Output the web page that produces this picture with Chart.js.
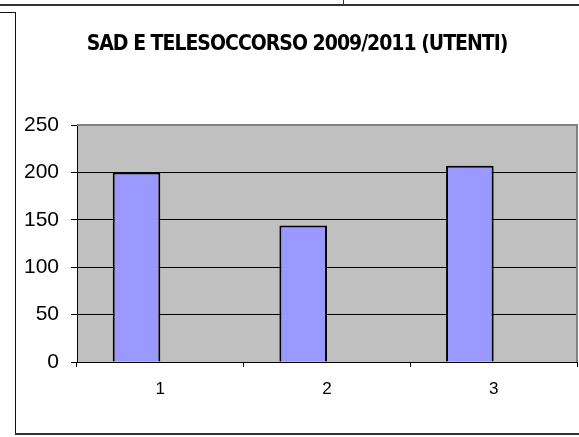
<!DOCTYPE html>
<html>
<head>
<meta charset="utf-8">
<script src="https://cdn.jsdelivr.net/npm/chart.js@4/dist/chart.umd.min.js"></script>
<style>
  body { margin: 0; background: #fff; }
  #wrap { position: relative; width: 579px; height: 437px; overflow: hidden; }
  #chart { position: absolute; left: 15px; top: 0; }
  .ln { position: absolute; background: #333; }
</style>
</head>
<body>
<div id="wrap">
  <canvas id="chart" width="564" height="437"></canvas>
  <div class="ln" style="left:0;top:4px;width:579px;height:2px;"></div>
  <div class="ln" style="left:343px;top:0;width:1px;height:5px;"></div>
  <div class="ln" style="left:0;top:12px;width:16px;height:1px;background:#111;"></div>
  <div class="ln" style="left:15px;top:12px;width:1px;height:423px;background:#111;"></div>
  <div class="ln" style="left:15px;top:433px;width:564px;height:2px;"></div>
</div>
<script>
var title = 'SAD E TELESOCCORSO 2009/2011 (UTENTI)';
var categories = ['1', '2', '3'];
var utenti = [200, 144, 207];
var emptySeries = [null, null, null]; // excel left room for a 2nd series
var yMax = 250, yStep = 50;

var plotBg = {
  id: 'plotBg',
  beforeDraw: function(chart){
    var a = chart.chartArea, c = chart.ctx;
    c.save();
    c.fillStyle = '#c0c0c0';
    c.fillRect(a.left, a.top, a.right - a.left, a.bottom - a.top);
    c.restore();
  },
  afterDatasetsDraw: function(chart){
    var a = chart.chartArea, c = chart.ctx;
    c.save();
    c.strokeStyle = '#808080';
    c.lineWidth = 2;
    c.beginPath();
    c.moveTo(a.left, a.top);
    c.lineTo(a.right, a.top);
    c.lineTo(a.right, a.bottom);
    c.stroke();
    c.restore();
  },
  // title drawn by hand so it can be squeezed like the Calibri original
  afterDraw: function(chart){
    var c = chart.ctx;
    c.save();
    c.font = "bold 21px 'DejaVu Sans Condensed', sans-serif";
    c.letterSpacing = '-1px';
    c.fillStyle = '#000';
    c.textAlign = 'center';
    c.textBaseline = 'alphabetic';
    c.fillText(title, chart.width / 2, 49.5);
    c.restore();
  }
};

new Chart(document.getElementById('chart'), {
  type: 'bar',
  data: {
    labels: categories,
    datasets: [
      { data: utenti, backgroundColor: '#9999ff', borderColor: '#000', borderWidth: 2 },
      { data: emptySeries, backgroundColor: '#993366' }
    ]
  },
  options: {
    responsive: false,
    animation: false,
    layout: { padding: { left: 0, right: 2, top: 125, bottom: 0 } },
    datasets: { bar: { categoryPercentage: 2 / 3.5, barPercentage: 1 } },
    plugins: {
      legend: { display: false },
      tooltip: { enabled: false },
      title: { display: false }
    },
    scales: {
      x: {
        grid: { drawOnChartArea: false, color: '#000', tickLength: 5 },
        border: { color: '#000', width: 1 },
        ticks: { color: '#000', padding: 12, font: { family: "'Liberation Sans', Arial, sans-serif", size: 17 } },
        afterFit: function(s){ s.height = 75; }
      },
      y: {
        min: 0, max: yMax,
        grid: { color: '#000', tickLength: 6 },
        border: { color: '#000', width: 1 },
        ticks: { stepSize: yStep, color: '#000', padding: 12, font: { family: "'Liberation Sans', Arial, sans-serif", size: 21 } },
        afterFit: function(s){ s.width = 62; }
      }
    }
  },
  plugins: [plotBg]
});
</script>
</body>
</html>
